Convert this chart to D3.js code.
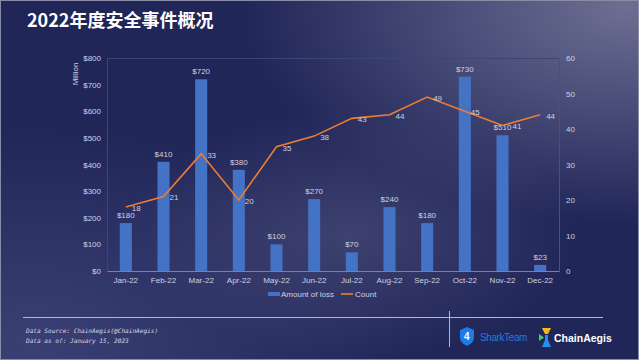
<!DOCTYPE html>
<html><head><meta charset="utf-8">
<script src="https://cdn.jsdelivr.net/npm/d3@7"></script>
<style>html,body{margin:0;padding:0;background:#22275a;}svg{display:block;}</style>
</head><body>
<script>
const months = ["Jan-22","Feb-22","Mar-22","Apr-22","May-22","Jun-22","Jul-22","Aug-22","Sep-22","Oct-22","Nov-22","Dec-22"];
const lossValues = [180,410,720,380,100,270,70,240,180,730,510,23];
const countValues = [18,21,33,20,35,38,43,44,49,45,41,44];
const lossTicks = [0,100,200,300,400,500,600,700,800];
const countTicks = [0,10,20,30,40,50,60];

(function(){
const W = 639, H = 360;
const svg = d3.select("body").append("svg").attr("width", W).attr("height", H);
const defs = svg.append("defs");
const g1 = defs.append("radialGradient").attr("id","glowTR").attr("cx","0.98").attr("cy","0.02").attr("r","0.6");
g1.append("stop").attr("offset","0").attr("stop-color","#6c6e92");
g1.append("stop").attr("offset","1").attr("stop-color","#6c6e92").attr("stop-opacity",0);
const g2 = defs.append("radialGradient").attr("id","glowBL").attr("cx","0.05").attr("cy","0.95").attr("r","0.6");
g2.append("stop").attr("offset","0").attr("stop-color","#3a4074");
g2.append("stop").attr("offset","1").attr("stop-color","#3a4074").attr("stop-opacity",0);
const g3 = defs.append("radialGradient").attr("id","glowC").attr("cx","0.55").attr("cy","0.65").attr("r","0.35");
g3.append("stop").attr("offset","0").attr("stop-color","#4a4d78").attr("stop-opacity",0.7);
g3.append("stop").attr("offset","1").attr("stop-color","#4a4d78").attr("stop-opacity",0);

svg.append("rect").attr("width",W).attr("height",H).attr("fill","#212659");
svg.append("rect").attr("width",W).attr("height",H).attr("fill","url(#glowBL)");
svg.append("rect").attr("width",W).attr("height",H).attr("fill","url(#glowC)");
svg.append("rect").attr("width",W).attr("height",H).attr("fill","url(#glowTR)");
svg.append("rect").attr("x",0.5).attr("y",0.5).attr("width",W-1).attr("height",H-1).attr("fill","none").attr("stroke","#8a8ca6").attr("stroke-width",1);

svg.append("text").attr("x",27).attr("y",27).attr("fill","#ffffff")
  .attr("font-family","'Noto Sans CJK SC','Noto Sans',sans-serif").attr("font-weight","bold")
  .attr("font-size",18).text("2022年度安全事件概况");

const pL = 107, pR = 559, pT = 58, pB = 271;
const x = d3.scaleBand().domain(months).range([pL,pR]).paddingInner(0.68).paddingOuter(0.34);
const yL = d3.scaleLinear().domain([0,800]).range([pB,pT]);
const yR = d3.scaleLinear().domain([0,60]).range([pB,pT]);
const font = "'Liberation Sans',Arial,sans-serif";
const txt = "#cfd1e2";

svg.append("line").attr("x1",pL).attr("x2",pR).attr("y1",pT+0.5).attr("y2",pT+0.5).attr("stroke","#3d4478");

const axL = svg.append("g").attr("transform",`translate(${pL},0)`)
  .call(d3.axisLeft(yL).tickValues(lossTicks).tickSize(0).tickPadding(6).tickFormat(d=>"$"+d));
const axR = svg.append("g").attr("transform",`translate(${pR},0)`)
  .call(d3.axisRight(yR).tickValues(countTicks).tickSize(0).tickPadding(7));
const axB = svg.append("g").attr("transform",`translate(0,${pB})`)
  .call(d3.axisBottom(x).tickSize(0).tickPadding(6));
[axL,axR,axB].forEach(a=>{
  a.selectAll("text").attr("fill",txt).attr("font-family",font).attr("font-size",8);
});
axL.select(".domain").attr("stroke","#3d4478");
axR.select(".domain").attr("stroke","#4a507e");
axB.select(".domain").attr("stroke","#7a7fa6");

svg.append("text").attr("transform","translate(78,74) rotate(-90)").attr("text-anchor","middle")
  .attr("fill",txt).attr("font-family",font).attr("font-size",8).text("Million");

svg.append("g").selectAll("rect").data(lossValues).join("rect")
  .attr("x",(d,i)=>x(months[i])).attr("width",x.bandwidth())
  .attr("y",d=>yL(d)).attr("height",d=>pB-yL(d)).attr("fill","#4472c4");
svg.append("g").selectAll("text").data(lossValues).join("text")
  .attr("x",(d,i)=>x(months[i])+x.bandwidth()/2).attr("y",d=>yL(d)-5)
  .attr("text-anchor","middle").attr("fill",txt).attr("font-family",font).attr("font-size",8)
  .text(d=>"$"+d);

const cx = i => x(months[i])+x.bandwidth()/2;
svg.append("path").datum(countValues)
  .attr("d",d3.line().x((d,i)=>cx(i)).y(d=>yR(d)))
  .attr("fill","none").attr("stroke","#ed7d31").attr("stroke-width",1.6);
svg.append("g").selectAll("text").data(countValues).join("text")
  .attr("x",(d,i)=>cx(i)+(i===10?10:6)).attr("y",d=>yR(d)+4)
  .attr("fill",txt).attr("font-family",font).attr("font-size",8).text(d=>d);

const lg = svg.append("g").attr("font-family",font).attr("font-size",8).attr("fill",txt);
lg.append("rect").attr("x",268).attr("y",292).attr("width",12).attr("height",4).attr("fill","#4472c4");
lg.append("text").attr("x",281).attr("y",297).text("Amount of loss");
lg.append("line").attr("x1",341).attr("x2",353).attr("y1",294).attr("y2",294).attr("stroke","#ed7d31").attr("stroke-width",1.6);
lg.append("text").attr("x",355).attr("y",297).text("Count");

svg.append("line").attr("x1",23).attr("x2",603).attr("y1",317.5).attr("y2",317.5).attr("stroke","#b4b6cc").attr("stroke-width",1);
svg.append("line").attr("x1",449.5).attr("x2",449.5).attr("y1",311).attr("y2",347).attr("stroke","#b4b6cc").attr("stroke-width",1);
const ft = svg.append("g").attr("font-family","'DejaVu Sans Mono',monospace").attr("font-style","italic").attr("font-size",6.1).attr("fill","#d8d9e6");
ft.append("text").attr("x",26).attr("y",333).text("Data Source: ChainAegis(@ChainAegis)");
ft.append("text").attr("x",26).attr("y",343).text("Data as of: January 15, 2023");

const sh = svg.append("g").attr("transform","translate(460,327)");
sh.append("path").attr("d","M7 0 L14 3 L14 10 Q14 16 7 19 Q0 16 0 10 L0 3 Z").attr("fill","#1e7be6");
sh.append("text").attr("x",4).attr("y",13).attr("fill","#ffffff").attr("font-family",font).attr("font-weight","bold").attr("font-size",10).text("4");
svg.append("text").attr("x",480).attr("y",341).attr("fill","#1f7ae0").attr("font-family",font).attr("font-size",10).attr("letter-spacing",-0.4).text("SharkTeam");
const ca = svg.append("g").attr("transform","translate(539,328)");
ca.append("path").attr("d","M3 0 L12 0 L9 6 L6 6 Z").attr("fill","#f5b915");
ca.append("path").attr("d","M6 12 L9 12 L12 19 L3 19 Z").attr("fill","#2a8cf0");
ca.append("path").attr("d","M0 6 L5 9.5 L0 13 Z").attr("fill","#3ed35a");
ca.append("rect").attr("x",6).attr("y",7).attr("width",3).attr("height",5).attr("fill","#2a8cf0");
svg.append("text").attr("x",554).attr("y",342).attr("fill","#ffffff").attr("font-family",font).attr("font-weight","bold").attr("font-size",10.5).text("ChainAegis");
})();
</script>
</body></html>
